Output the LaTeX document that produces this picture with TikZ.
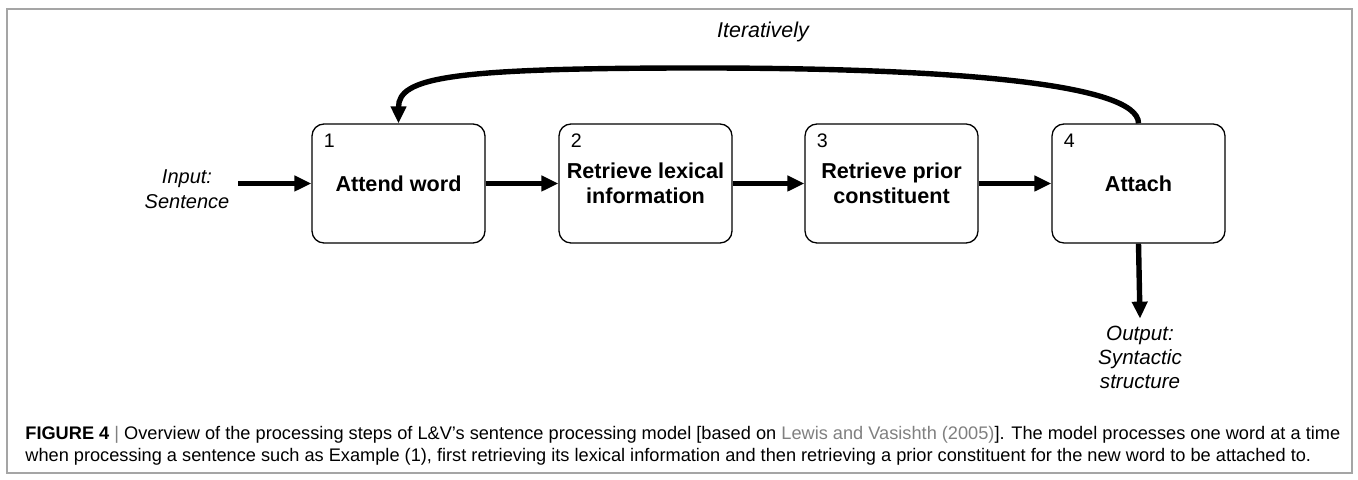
\documentclass[tikz,border=0pt]{standalone}
\usepackage{fontspec}
\setmainfont{Liberation Sans}
\usetikzlibrary{arrows.meta}
\definecolor{framegray}{RGB}{165,165,165}
\definecolor{citegray}{RGB}{128,128,128}
\tikzset{
  stepbox/.style={draw, rounded corners=6pt, line width=0.65pt,
    minimum width=86.5pt, minimum height=59.5pt, align=center,
    font=\fontsize{10.8}{12.5}\selectfont\bfseries},
  stepnum/.style={anchor=north west, inner sep=0pt,
    font=\fontsize{9.8}{10}\selectfont},
  flowlabel/.style={align=center, font=\fontsize{10.3}{12}\selectfont\itshape},
  flow/.style={line width=2.7pt, -{Triangle[length=8.5pt,width=7.5pt]}},
}
\begin{document}
\begin{tikzpicture}[x=0.5pt,y=0.5pt]
  \useasboundingbox (0,0) rectangle (1358,480);
  \draw[framegray, line width=0.75pt] (7,7) rectangle (1352,471);
  \draw
    (398.5,296.5) node[stepbox] (aw){Attend word}
    (645.5,296.5) node[stepbox] (rl){Retrieve lexical\\information}
    (891.5,296.5) node[stepbox] (rp){Retrieve prior\\constituent}
    (1138.5,296.5) node[stepbox] (att){Attach}
    (187,291) node[flowlabel, font=\fontsize{10}{12.5}\selectfont\itshape] (inp){Input:\\Sentence}
    (1140,123) node[flowlabel] (outp){Output:\\Syntactic\\structure}
    (763,448) node[flowlabel, font=\fontsize{10.7}{12}\selectfont\itshape] (iter){Iteratively};
  \node[stepnum] (n1) at ([xshift=6pt,yshift=-5pt]aw.north west) {1};
  \node[stepnum] (n2) at ([xshift=6pt,yshift=-5pt]rl.north west) {2};
  \node[stepnum] (n3) at ([xshift=6pt,yshift=-5pt]rp.north west) {3};
  \node[stepnum] (n4) at ([xshift=6pt,yshift=-5pt]att.north west) {4};
  \coordinate (src) at (238,296.5);
  \coordinate (top) at (700,412);
  \begin{scope}[flow]
    \draw (src) to (aw.west);
    \draw (aw) to (rl);
    \draw (rl) to (rp);
    \draw (rp) to (att);
    \draw (att.south) to (outp.north);
    \draw (att.north) .. controls +(0,40) and +(250,0) .. (top)
      .. controls +(-250,0) and +(0,46) .. (aw.north);
  \end{scope}
  \node[anchor=north west, align=left, inner sep=0pt,
    font=\fontsize{9.1}{11}\selectfont] (cap) at (25,54)
    {\textbf{FIGURE 4} {\color{citegray}|} Overview of the processing steps of L\&V's sentence processing model [based on {\color{citegray}Lewis and Vasishth (2005)}]. The model processes one word at a time\\
     when processing a sentence such as Example (1), first retrieving its lexical information and then retrieving a prior constituent for the new word to be attached to.};
\end{tikzpicture}
\end{document}
